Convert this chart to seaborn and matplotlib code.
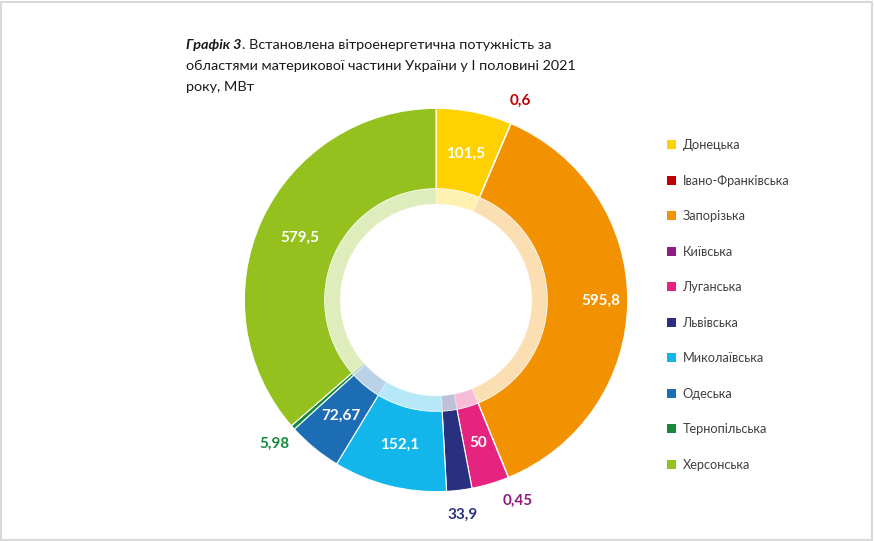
import matplotlib
matplotlib.use("Agg")
import matplotlib.pyplot as plt
import seaborn as sns
import numpy as np
from matplotlib.patches import Patch

sns.set_theme(style="white")
plt.rcParams['font.family'] = ['Lato', 'DejaVu Sans']

regions = ["Донецька", "Івано-Франківська", "Запорізька", "Київська", "Луганська",
           "Львівська", "Миколаївська", "Одеська", "Тернопільська", "Херсонська"]
values = [101.5, 0.6, 595.8, 0.45, 50, 33.9, 152.1, 72.67, 5.98, 579.5]
value_labels = ["101,5", "0,6", "595,8", "0,45", "50", "33,9", "152,1", "72,67", "5,98", "579,5"]
colors = ["#FFD100", "#C00000", "#F39200", "#8E1B7D", "#E6237E", "#29307F",
          "#12B6EB", "#1D6DB4", "#148A3C", "#95C11F"]
outside = [False, True, False, True, False, True, False, False, True, False]

fig = plt.figure(figsize=(8.74, 5.41), dpi=100)
fig.patch.set_facecolor("white")

ax = fig.add_axes([206/874, 11/541, 460/874, 460/541])

# main ring
ax.pie(values, colors=colors, startangle=90, counterclock=False, radius=1.0,
       wedgeprops=dict(width=0.42, edgecolor="white", linewidth=0.8))
# inner light ring
ax.pie(values, colors=colors, startangle=90, counterclock=False, radius=0.58,
       wedgeprops=dict(width=0.08, edgecolor="white", linewidth=0.8, alpha=0.3))
ax.set_xlim(-1.2, 1.2)
ax.set_ylim(-1.2, 1.2)
ax.set_aspect("equal")
ax.axis("off")

total = sum(values)
cum = 0.0
for v, lab, col, out in zip(values, value_labels, colors, outside):
    mid = (cum + v / 2) / total * 360.0
    cum += v
    theta = np.deg2rad(90 - mid)
    if out:
        r = 1.13
        c = col
    else:
        r = 0.86 if v > 590 else 0.78
        c = "white"
    ax.text(r * np.cos(theta), r * np.sin(theta), lab, ha="center", va="center",
            fontsize=11, fontweight="bold", color=c)

# title
fs = 10.4
t0 = fig.text(186/874, 1 - 45/541, "Графік 3", fontsize=fs, fontweight="bold", style="italic",
              color="#1a1a1a", ha="left", va="center")
fig.canvas.draw()
bb = t0.get_window_extent(renderer=fig.canvas.get_renderer())
x1 = bb.x1 / fig.bbox.width
fig.text(x1, 1 - 45/541, ". Встановлена вітроенергетична потужність за",
         fontsize=fs, color="#1a1a1a", ha="left", va="center")
fig.text(186/874, 1 - 66/541, "областями материкової частини України у І половині 2021",
         fontsize=fs, color="#1a1a1a", ha="left", va="center")
fig.text(186/874, 1 - 87/541, "року, МВт",
         fontsize=fs, color="#1a1a1a", ha="left", va="center")

# legend
handles = [Patch(facecolor=c, edgecolor="none", label=r) for c, r in zip(colors, regions)]
leg = fig.legend(handles=handles, loc="upper left", bbox_to_anchor=(662/874, 1 - 134/541),
                 frameon=False, fontsize=9.2, handlelength=0.7, handleheight=0.7,
                 handletextpad=0.5, labelspacing=1.84, borderaxespad=0)
for t in leg.get_texts():
    t.set_color("#404040")

# border
border = plt.Rectangle((0.001, 0.002), 0.997, 0.995, transform=fig.transFigure,
                       fill=False, edgecolor="#d9d9d9", linewidth=1.5)
fig.add_artist(border)

fig.savefig("out.png", dpi=100, facecolor="white")
